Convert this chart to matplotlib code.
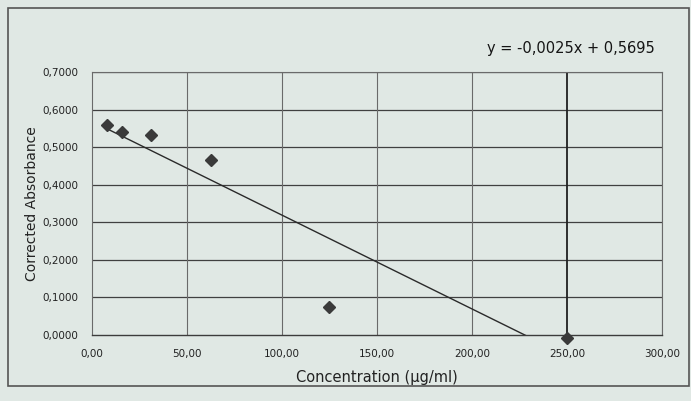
import matplotlib
matplotlib.use("Agg")
import matplotlib.pyplot as plt
import numpy as np
from matplotlib.patches import Rectangle

# Data
concentration = [7.8125, 15.625, 31.25, 62.5, 125.0, 250.0]
absorbance = [0.560, 0.540, 0.532, 0.466, 0.075, -0.008]
slope = -0.0025
intercept = 0.5695
x_ticks = [0, 50, 100, 150, 200, 250, 300]
x_tick_labels = ["0,00", "50,00", "100,00", "150,00", "200,00", "250,00", "300,00"]
y_ticks = [0.0, 0.1, 0.2, 0.3, 0.4, 0.5, 0.6, 0.7]
y_tick_labels = ["0,0000", "0,1000", "0,2000", "0,3000", "0,4000", "0,5000", "0,6000", "0,7000"]
equation = "y = -0,0025x + 0,5695"

bg = "#e0e8e4"
fig = plt.figure(figsize=(6.91, 4.01), dpi=100)
fig.patch.set_facecolor(bg)

# chart-area border
fig.patches.append(Rectangle((0.0116, 0.037), 0.985, 0.943, transform=fig.transFigure,
                             fill=False, edgecolor="#555555", linewidth=1.2))

ax = fig.add_axes([0.133, 0.1646, 0.825, 0.655])
ax.set_facecolor(bg)
ax.set_xlim(0, 300)
ax.set_ylim(0, 0.7)

# gridlines
for yt in y_ticks[1:]:
    ax.axhline(yt, color="#404040", linewidth=0.9, zorder=1)
for xt in x_ticks[1:]:
    ax.axvline(xt, color="#202020" if xt == 250 else "#6a6a6a",
               linewidth=1.3 if xt == 250 else 0.8, zorder=1)

for s in ["left", "top", "right"]:
    ax.spines[s].set_color("#6a6a6a")
    ax.spines[s].set_linewidth(0.8)
ax.spines["bottom"].set_color("#3c3c3c")
ax.spines["bottom"].set_linewidth(1.0)

# trendline
xs = np.array([min(concentration), max(concentration)])
ax.plot(xs, slope * xs + intercept, color="#2a2a2a", linewidth=1.0, zorder=2)

ax.plot(concentration, absorbance, linestyle="none", marker="D", markersize=6.5,
        color="#3a3a3a", zorder=3, clip_on=False)

ax.set_xticks(x_ticks)
ax.set_xticklabels(x_tick_labels, fontsize=7.5, color="#222222")
ax.set_yticks(y_ticks)
ax.set_yticklabels(y_tick_labels, fontsize=7.5, color="#222222")
ax.tick_params(length=0, pad=10)

ax.set_xlabel("Concentration (µg/ml)", fontsize=10.5, color="#222222", labelpad=8)
ax.set_ylabel("Corrected Absorbance", fontsize=10, color="#222222", labelpad=2)

fig.text(0.948, 0.880, equation, ha="right", va="center", fontsize=10.5, color="#151515")

fig.savefig("out.png", dpi=100, facecolor=bg)
